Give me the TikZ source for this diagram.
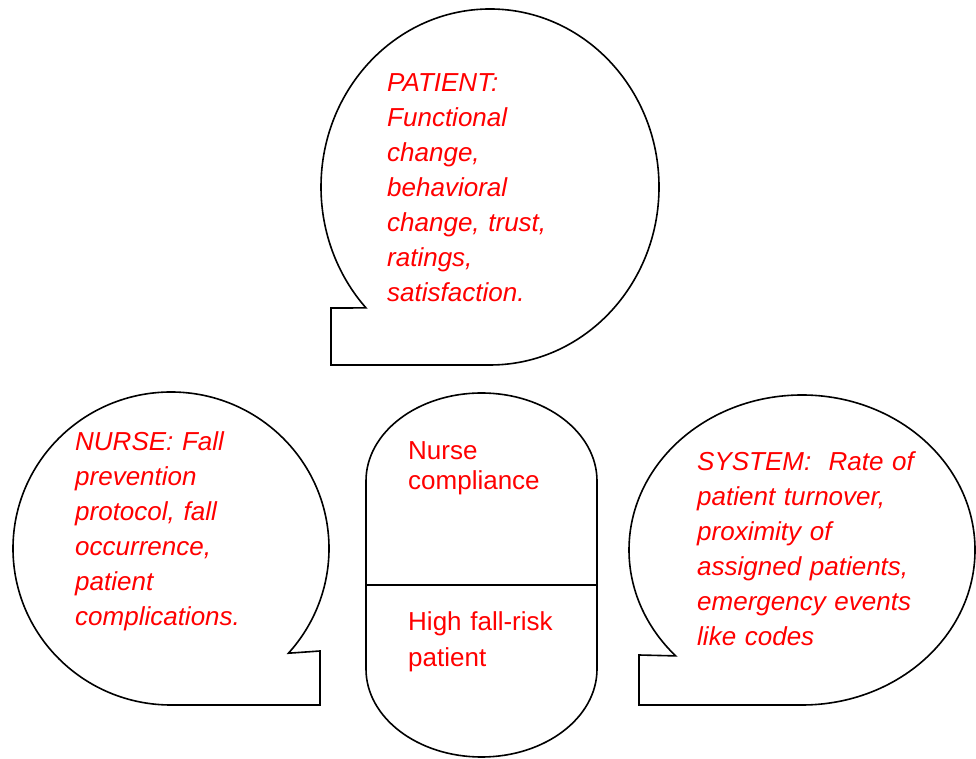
\documentclass[tikz,border=0pt]{standalone}
\usepackage{fontspec}
\setmainfont{Liberation Sans}
\begin{document}
\begin{tikzpicture}[x=1pt,y=1pt,
  outline/.style={draw=black,line width=1.6pt,line join=miter},
  bubbletext/.style={text=red,inner sep=0pt,anchor=base west,text width=280pt,align=left,
    font=\fontsize{26}{35}\selectfont\itshape},
  pilltext/.style={text=red,inner sep=0pt,anchor=base west,text width=200pt,align=left}]
\useasboundingbox (0,0) rectangle (976,759);

% speech bubble: patient (tail at lower left)
\draw[outline] (331,394) -- (490,394)
  arc[start angle=270,end angle=582.8,x radius=169,y radius=178]
  -- (331,451) -- cycle;
\node[bubbletext] (patient) at (387,667)
  {PATIENT:\\Functional\\change,\\behavioral\\change, trust,\\ratings,\\satisfaction.};

% speech bubble: nurse (tail at lower right)
\draw[outline] (320,54) -- (171,54)
  arc[start angle=270,end angle=-42,x radius=158,y radius=156.5]
  -- (320,108) -- cycle;
\node[bubbletext] (nurse) at (75,308)
  {NURSE: Fall\\prevention\\protocol, fall\\occurrence,\\patient\\complications.};

% speech bubble: system (tail at lower left)
\draw[outline] (639,54) -- (802,54)
  arc[start angle=270,end angle=583.1,x radius=173,y radius=155]
  -- (639,104) -- cycle;
\node[bubbletext] (system) at (697,288)
  {SYSTEM:\ \ Rate of\\patient turnover,\\proximity of\\assigned patients,\\emergency events\\like codes};

% central capsule split in two
\draw[outline] (366,278)
  arc[start angle=180,end angle=0,x radius=115.5,y radius=88]
  -- (597,90)
  arc[start angle=0,end angle=-180,x radius=115.5,y radius=88]
  -- cycle;
\draw[outline] (366,174) -- (597,174);
\node[pilltext,font=\fontsize{26}{30}\selectfont] (compliance) at (408,299)
  {Nurse\\compliance};
\node[pilltext,font=\fontsize{26}{36}\selectfont] (risk) at (408,128)
  {High fall-risk\\patient};
\end{tikzpicture}
\end{document}
